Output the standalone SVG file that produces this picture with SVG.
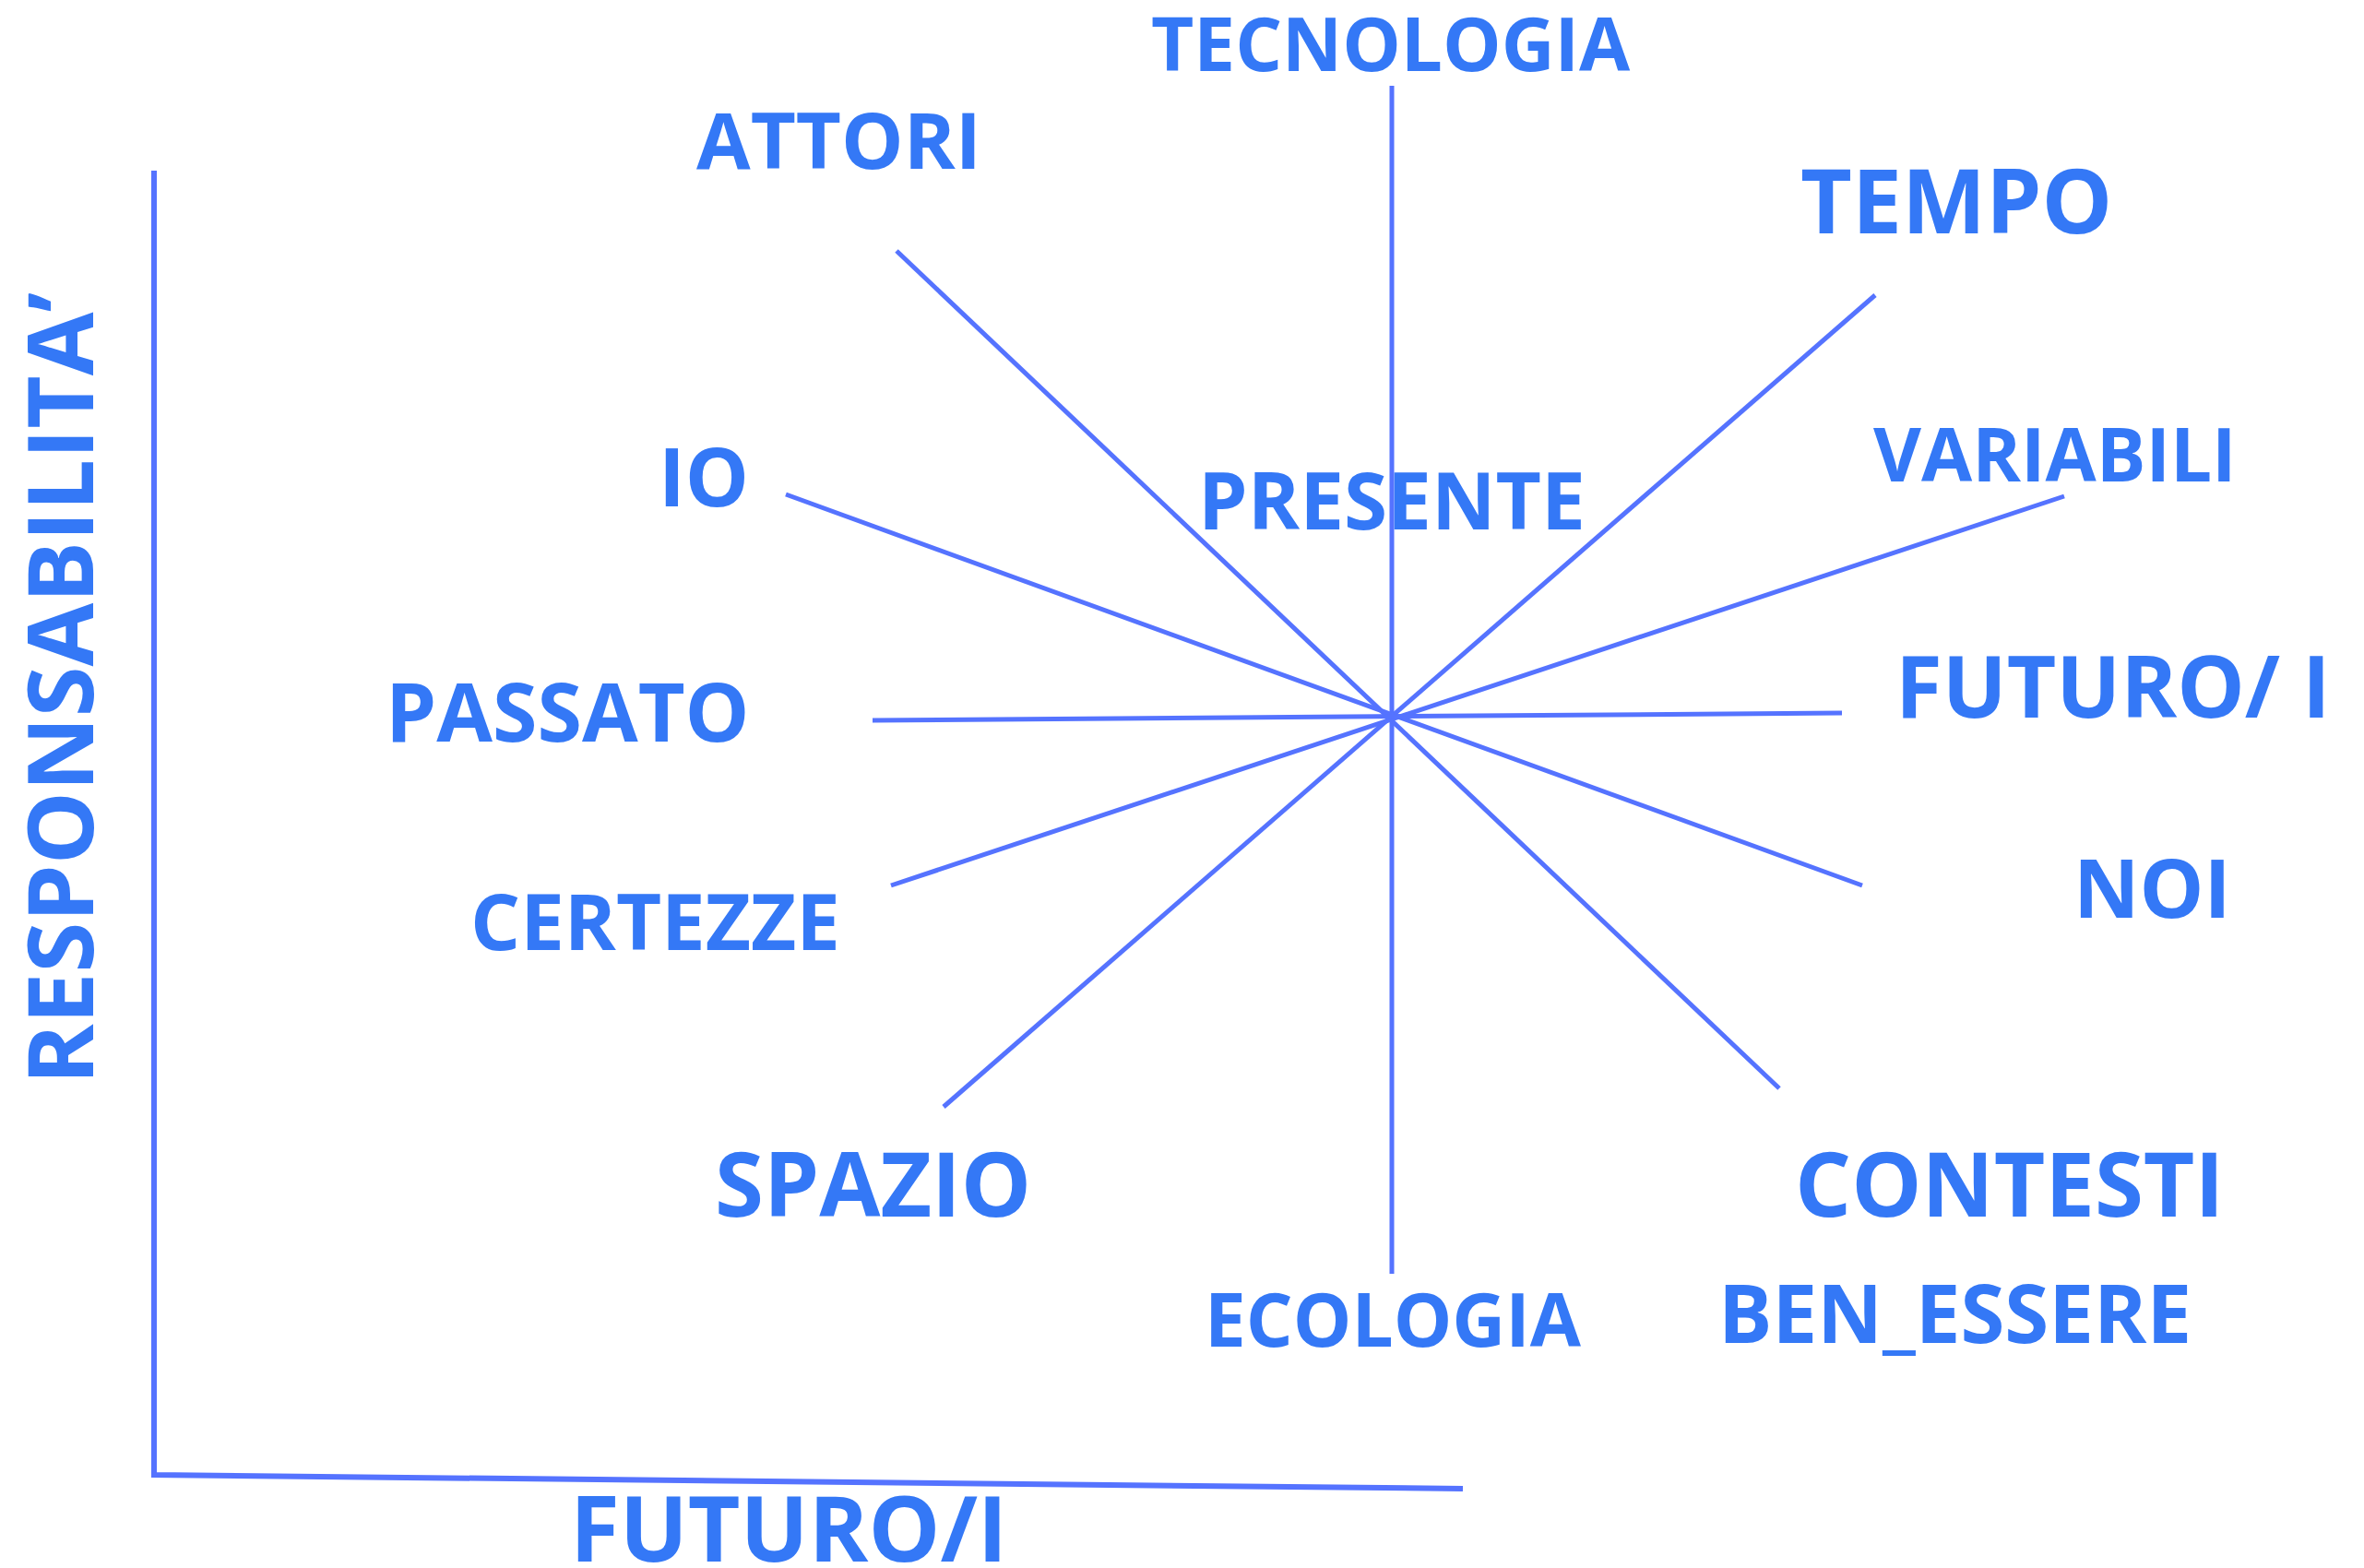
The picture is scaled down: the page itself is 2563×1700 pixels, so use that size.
<svg xmlns="http://www.w3.org/2000/svg" width="2563" height="1700" viewBox="0 0 2563 1700">
<style>
  .lbl { font-family: "Open Sans", "Liberation Sans", sans-serif; font-weight: 700; fill: #3478F6; }
  .ln { stroke: #5573FF; stroke-width: 5; fill: none; stroke-linecap: butt; }
  .ax { stroke: #5573FF; stroke-width: 6; fill: none; }
</style>
<rect width="2563" height="1700" fill="#FFFFFF"/>
<g id="connectors">
  <line class="ln" x1="1509" y1="93" x2="1509" y2="1381"/>
  <line class="ln" x1="972" y1="272" x2="1929" y2="1180"/>
  <line class="ln" x1="2033" y1="320" x2="1023" y2="1200"/>
  <line class="ln" x1="852" y1="536" x2="2019" y2="960"/>
  <line class="ln" x1="2238" y1="538" x2="966" y2="960"/>
  <line class="ln" x1="946" y1="781" x2="1997" y2="773"/>
  <polyline class="ax" points="167,185 167,1599 1586,1614"/>
</g>
<g id="tecnologia"><text class="lbl" x="1248" y="77" font-size="80">TECNOLOGIA</text></g>
<g id="attori"><text class="lbl" x="755" y="183" font-size="85">ATTORI</text></g>
<g id="tempo"><text class="lbl" x="1952" y="253" font-size="96.5">TEMPO</text></g>
<g id="presente"><text class="lbl" x="1299" y="574" font-size="85.5">PRESENTE</text></g>
<g id="variabili"><text class="lbl" x="2031" y="522" font-size="80">VARIABILI</text></g>
<g id="io"><text class="lbl" x="714" y="549" font-size="87">IO</text></g>
<g id="passato"><text class="lbl" x="418" y="804" font-size="88">PASSATO</text></g>
<g id="futuro-right"><text class="lbl" x="2055" y="778" font-size="92.5">FUTURO/ I</text></g>
<g id="certezze"><text class="lbl" x="510" y="1030" font-size="85">CERTEZZE</text></g>
<g id="noi"><text class="lbl" x="2248" y="995" font-size="88">NOI</text></g>
<g id="spazio"><text class="lbl" x="775" y="1319" font-size="96">SPAZIO</text></g>
<g id="contesti"><text class="lbl" x="1946" y="1319" font-size="96">CONTESTI</text></g>
<g id="ecologia"><text class="lbl" x="1306" y="1460" font-size="80">ECOLOGIA</text></g>
<g id="ben-essere"><text class="lbl" x="1863" y="1456" font-size="87">BEN_ESSERE</text></g>
<g id="futuro-axis"><text class="lbl" x="618" y="1693" font-size="98">FUTURO/I</text></g>
<g id="responsabilita"><text class="lbl" x="101" y="1176" font-size="99.5" transform="rotate(-90 101 1176)">RESPONSABILITA’</text></g>
</svg>
